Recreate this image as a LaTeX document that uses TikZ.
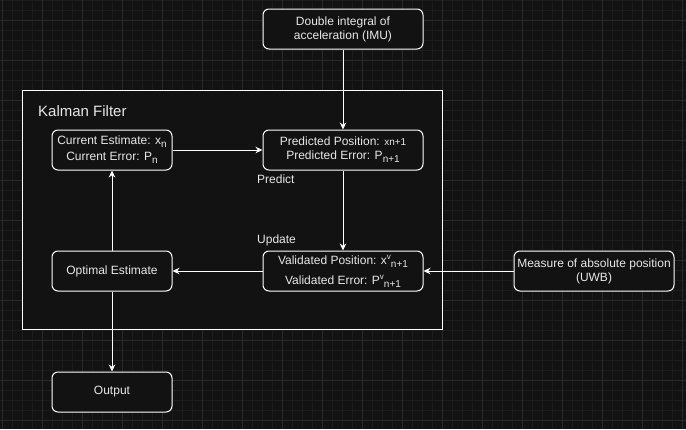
\documentclass[tikz,border=0pt]{standalone}
\usepackage{fontspec}
\setmainfont{Liberation Sans}
\usetikzlibrary{positioning,arrows.meta}
\definecolor{bgdark}{HTML}{121212}
\definecolor{gridminor}{HTML}{1C1C1C}
\definecolor{gridmajor}{HTML}{2A2A2A}
\definecolor{textlight}{HTML}{E8E8E8}
\newcommand{\lowidx}[1]{\raisebox{-3pt}{\fontsize{10}{12}\selectfont #1}}
\newcommand{\highidx}[1]{\raisebox{5pt}{\fontsize{8}{10}\selectfont #1}}
\tikzstyle{block}=[draw=white,line width=1pt,rounded corners=6pt,fill=bgdark,text=textlight,minimum width=120pt,minimum height=40pt,align=center,inner sep=1pt,font=\fontsize{12}{14}\selectfont]
\tikzstyle{wide}=[block,minimum width=160pt]
\tikzstyle{flow}=[draw=white,line width=1pt,-{Stealth[length=7pt,width=6.5pt]}]
\tikzstyle{note}=[text=textlight,inner sep=0pt,font=\fontsize{12}{14}\selectfont]

\begin{document}
\begin{tikzpicture}[x=1pt,y=-1pt,node distance=80pt]
  \useasboundingbox (0,0) rectangle (686,429);
  \fill[bgdark] (0,0) rectangle (686,429);
  \foreach \gx in {2,12,...,682} \draw[gridminor,line width=0.8pt] (\gx,0) -- (\gx,429);
  \foreach \gy in {0,10,...,420} \draw[gridminor,line width=0.8pt] (0,\gy) -- (686,\gy);
  \foreach \gx in {2,42,...,682} \draw[gridmajor,line width=0.8pt] (\gx,0) -- (\gx,429);
  \foreach \gy in {20,60,...,420} \draw[gridmajor,line width=0.8pt] (0,\gy) -- (686,\gy);
  % Kalman filter frame
  \draw[white,line width=1pt,fill=bgdark] (22,90) rectangle (442,329);
  \node[note,anchor=base west,font=\fontsize{15}{18}\selectfont] (kftitle) at (38,116) {Kalman Filter};
  \node[block] (current) at (112,150) {Current Estimate: x\lowidx{n}\\[2pt] Current Error: P\lowidx{n}};
  \node[wide,right=90pt of current] (predicted) {Predicted Position: {\fontsize{10}{12}\selectfont xn+1}\\ Predicted Error: P\lowidx{n+1}};
  \node[block,below=of current] (optimal) {Optimal Estimate};
  \node[wide,below=of predicted] (validated) {Validated Position: x\highidx{v}\lowidx{n+1}\\[6pt] Validated Error: P\highidx{v}\lowidx{n+1}};
  \node[wide,above=of predicted] (imu) {Double integral of\\ acceleration (IMU)};
  \node[wide,right=90pt of validated] (uwb) {Measure of absolute position\\ (UWB)};
  \node[block,below=of optimal] (output) {Output};
  \node[note,anchor=base west] (predict) at (257,183.5) {Predict};
  \node[note,anchor=base west] (update) at (257,243.5) {Update};
  \draw[flow] (imu) -- (predicted);
  \draw[flow] (current) -- (predicted);
  \draw[flow] (predicted) -- (validated);
  \draw[flow] (uwb) -- (validated);
  \draw[flow] (validated) -- (optimal);
  \draw[flow] (optimal) -- (current);
  \draw[flow] (optimal) -- (output);
\end{tikzpicture}
\end{document}
